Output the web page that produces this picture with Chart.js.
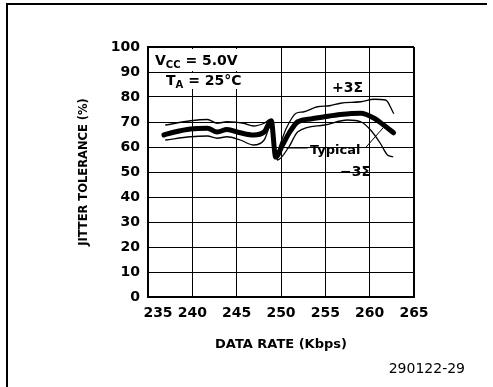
<!DOCTYPE html>
<html>
<head>
<meta charset="utf-8">
<script src="https://cdn.jsdelivr.net/npm/chart.js@4.4.1/dist/chart.umd.min.js"></script>
<style>
html, body { margin: 0; padding: 0; background: #fff; }
</style>
</head>
<body>
<canvas id="jitterChart" width="493" height="387"></canvas>
<script>
// axis ticks
const rateTicks = [235, 240, 245, 250, 255, 260, 265];
const tolTicks = [0, 10, 20, 30, 40, 50, 60, 70, 80, 90, 100];

// +3 sigma curve
const plusRate = [237.0, 239.8, 241.7, 242.8, 243.9, 245.8, 246.9, 248.1, 248.8, 249.4, 250.0, 250.6, 251.7, 252.5, 254.1, 255.5, 256.7, 259.0, 260.5, 261.8, 262.7];
const plusTol = [68.8, 70.5, 71.0, 69.5, 70.1, 69.5, 68.4, 69.5, 71.0, 57.0, 62.0, 67.5, 73.5, 74.0, 76.1, 76.5, 77.5, 78.1, 79.1, 78.8, 73.5];

// typical curve
const typRate = [236.8, 238.0, 239.8, 241.7, 242.8, 243.9, 245.4, 246.9, 248.1, 248.9, 249.4, 250.2, 250.9, 251.9, 253.5, 254.9, 256.7, 259.0, 260.5, 261.5, 262.7];
const typTol = [64.8, 66.0, 67.2, 67.5, 66.0, 67.0, 65.7, 64.8, 66.0, 70.5, 56.0, 61.0, 65.5, 70.1, 71.3, 72.1, 73.0, 73.5, 71.5, 69.0, 65.7];

// -3 sigma curve
const minusRate = [237.0, 239.8, 241.7, 242.8, 243.9, 245.4, 246.9, 248.1, 248.8, 249.6, 250.9, 251.9, 254.9, 257.5, 259.0, 260.1, 261.2, 262.0, 262.6];
const minusTol = [62.8, 64.1, 64.4, 63.5, 64.1, 62.8, 60.8, 62.8, 68.1, 54.8, 60.1, 66.1, 68.8, 70.8, 70.1, 66.8, 61.5, 56.8, 56.1];

const FONT = '"DejaVu Sans", sans-serif';

function toPoints(xs, ys) {
    return xs.map((x, i) => ({ x: x, y: ys[i] }));
}

function curve(label, xs, ys, width) {
    return {
        label: label,
        data: toPoints(xs, ys),
        showLine: true,
        borderColor: '#000',
        borderWidth: width,
        pointRadius: 0,
        cubicInterpolationMode: 'monotone',
        borderCapStyle: 'round',
        borderJoinStyle: 'round'
    };
}

// subscripted text like V_CC
function drawSub(ctx, x, y, main, sub, rest, size) {
    ctx.font = 'bold ' + size + 'px ' + FONT;
    ctx.fillText(main, x, y);
    x += ctx.measureText(main).width;
    ctx.font = 'bold ' + (size - 4) + 'px ' + FONT;
    ctx.fillText(sub, x, y + 3);
    x += ctx.measureText(sub).width;
    ctx.font = 'bold ' + size + 'px ' + FONT;
    ctx.fillText(rest, x, y);
}

const sheetPlugin = {
    id: 'sheet',
    beforeDatasetsDraw(chart) {
        const ctx = chart.ctx;
        const y90 = chart.scales.y.getPixelForValue(90);
        const top = chart.chartArea.top;
        // white space behind the condition labels
        ctx.save();
        ctx.fillStyle = '#fff';
        ctx.fillRect(186, top + 2, 59, y90 - top - 3);
        ctx.fillRect(186, y90 + 1, 59, 16);
        ctx.restore();
    },
    afterDraw(chart) {
        const ctx = chart.ctx;
        const xs = chart.scales.x;
        const ys = chart.scales.y;
        ctx.save();
        ctx.fillStyle = '#000';
        ctx.strokeStyle = '#000';

        // page frame
        ctx.lineWidth = 2;
        ctx.beginPath();
        ctx.moveTo(7, 387);
        ctx.lineTo(7, 4);
        ctx.lineTo(487, 4);
        ctx.stroke();

        // x tick labels
        ctx.font = 'bold 14px ' + FONT;
        ctx.textAlign = 'center';
        ctx.textBaseline = 'middle';
        rateTicks.forEach(v => {
            const off = v === 235 ? 10 : 0;
            ctx.fillText(String(v), xs.getPixelForValue(v) + off, 313);
        });

        // conditions
        ctx.textAlign = 'left';
        ctx.textBaseline = 'alphabetic';
        drawSub(ctx, 155, 65, 'V', 'CC', ' = 5.0V', 14);
        drawSub(ctx, 166, 85, 'T', 'A', ' = 25°C', 14);

        // curve labels
        ctx.font = 'bold 14px ' + FONT;
        ctx.fillText('+3Σ', 332, 92);
        ctx.font = 'bold 13px ' + FONT;
        ctx.fillText('Typical', 310, 154);
        ctx.font = 'bold 14px ' + FONT;
        ctx.fillText('−3Σ', 340, 176);

        // leader lines
        ctx.lineWidth = 1;
        ctx.beginPath();
        ctx.moveTo(xs.getPixelForValue(250.6), ys.getPixelForValue(59.6));
        ctx.lineTo(xs.getPixelForValue(253.0), ys.getPixelForValue(59.6));
        ctx.moveTo(xs.getPixelForValue(259.6), ys.getPixelForValue(60));
        ctx.lineTo(xs.getPixelForValue(261.5), ys.getPixelForValue(67.6));
        ctx.stroke();

        // figure number
        ctx.font = '14px ' + FONT;
        ctx.textAlign = 'right';
        ctx.fillText('290122-29', 465, 373);
        ctx.restore();
    }
};

const ctx = document.getElementById('jitterChart');

new Chart(ctx, {
    type: 'scatter',
    data: {
        datasets: [
            curve('+3Σ', plusRate, plusTol, 1.3),
            curve('Typical', typRate, typTol, 5),
            curve('−3Σ', minusRate, minusTol, 1.3)
        ]
    },
    options: {
        responsive: false,
        animation: false,
        layout: { padding: { left: 0, top: 47, right: 79, bottom: 0 } },
        plugins: {
            legend: { display: false },
            tooltip: { enabled: false }
        },
        scales: {
            x: {
                type: 'linear',
                min: 235,
                max: 265,
                afterBuildTicks: s => { s.ticks = rateTicks.map(v => ({ value: v })); },
                afterFit: s => { s.height = 90; },
                ticks: { display: false },
                grid: {
                    color: '#000',
                    lineWidth: c => (c.tick && c.tick.value === 265) ? 2 : 1,
                    drawTicks: false
                },
                border: { color: '#000', width: 2 },
                title: {
                    display: true,
                    text: 'DATA RATE (Kbps)',
                    color: '#000',
                    font: { family: FONT, size: 13, weight: 'bold' },
                    padding: { top: 0, bottom: 35 }
                }
            },
            y: {
                min: 0,
                max: 100,
                afterBuildTicks: s => { s.ticks = tolTicks.map(v => ({ value: v })); },
                afterFit: s => { s.width = 148; },
                ticks: {
                    color: '#000',
                    padding: 8,
                    font: { family: FONT, size: 14, weight: 'bold' }
                },
                grid: {
                    color: '#000',
                    lineWidth: c => (c.tick && c.tick.value === 100) ? 2 : 1,
                    drawTicks: false
                },
                border: { color: '#000', width: 2 },
                title: {
                    display: true,
                    text: 'JITTER TOLERANCE (%)',
                    color: '#000',
                    font: { family: FONT, size: 11.5, weight: 'bold' },
                    padding: { top: 77, bottom: 0 }
                }
            }
        }
    },
    plugins: [sheetPlugin]
});
</script>
</body>
</html>
